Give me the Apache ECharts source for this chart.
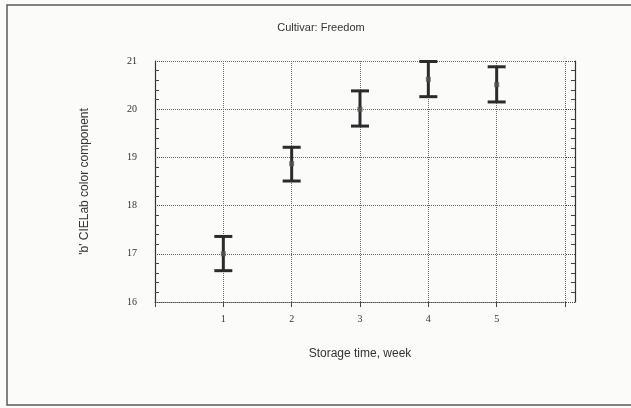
<!DOCTYPE html>
<html>
<head>
<meta charset="utf-8">
<script src="https://cdn.jsdelivr.net/npm/echarts@6/dist/echarts.min.js"></script>
<style>
  html, body { margin: 0; padding: 0; background: #fbfbfa; }
  #chart { width: 631px; height: 408px; }
</style>
</head>
<body>
<div id="chart"></div>
<script>
// storage week and the 'b' value with its error bar ends
const weeks = [1, 2, 3, 4, 5]
const means = [17.0, 18.87, 20.0, 20.62, 20.51]
const lower = [16.65, 18.51, 19.65, 20.26, 20.15]
const upper = [17.36, 19.21, 20.38, 20.99, 20.88]
const xTickLabels = ['1', '2', '3', '4', '5']

const sans = "'Liberation Sans', Arial, sans-serif"
const serif = "'Liberation Serif', 'DejaVu Serif', serif"
const ink = '#2b2b2b'

const chart = echarts.init(document.getElementById('chart'))

const barData = weeks.map((w, i) => [w, lower[i], upper[i]])
const pointData = weeks.map((w, i) => [w, means[i]])

chart.setOption({
  backgroundColor: '#fbfbfa',
  animation: false,
  title: {
    text: 'Cultivar: Freedom',
    left: 316,
    textAlign: 'center',
    top: 17,
    textStyle: { fontFamily: sans, fontSize: 11, fontWeight: 'normal', color: '#333' }
  },
  graphic: [{
    type: 'rect',
    shape: { x: 7, y: 5, width: 630, height: 400 },
    style: { fill: null, stroke: '#5a5a5a', lineWidth: 1.5 }
  }],
  // grid spans week 0..6, the solid side lines sit 10px outside it
  grid: { left: 155, right: 66, top: 61, bottom: 106 },
  xAxis: {
    type: 'value',
    min: 0,
    max: 6,
    interval: 1,
    name: 'Storage time, week',
    nameLocation: 'middle',
    nameGap: 46,
    nameTextStyle: { fontFamily: sans, fontSize: 12, color: '#333' },
    axisLine: { lineStyle: { color: '#555', type: 'dotted', width: 1 } },
    axisTick: { show: true, length: 5, lineStyle: { color: '#444' } },
    axisLabel: {
      margin: 12,
      fontFamily: serif,
      fontSize: 10,
      color: '#333',
      formatter: v => (v >= 1 && v <= 5) ? xTickLabels[Math.round(v) - 1] : ''
    },
    splitLine: { show: true, lineStyle: { color: '#666', type: 'dotted', width: 1 } }
  },
  yAxis: [{
    type: 'value',
    min: 16,
    max: 21,
    interval: 1,
    offset: 10,
    name: "'b' CIELab color component",
    nameLocation: 'middle',
    nameGap: 54,
    nameRotate: 90,
    nameTextStyle: { fontFamily: sans, fontSize: 12, color: '#333' },
    axisLine: { show: true, lineStyle: { color: '#333', width: 1.2 } },
    axisTick: { show: true, inside: true, length: 10, lineStyle: { color: '#444', type: 'dotted' } },
    minorTick: { show: true, splitNumber: 5, length: 4, lineStyle: { color: '#444' } },
    axisLabel: { margin: 8, fontFamily: serif, fontSize: 10, color: '#333' },
    splitLine: { show: true, lineStyle: { color: '#666', type: 'dotted', width: 1 } }
  }, {
    type: 'value',
    position: 'right',
    min: 16,
    max: 21,
    interval: 1,
    offset: 10,
    axisLine: { show: true, lineStyle: { color: '#333', width: 1.2 } },
    axisTick: { show: true, inside: true, length: 10, lineStyle: { color: '#444', type: 'dotted' } },
    minorTick: { show: true, splitNumber: 5, length: 4, lineStyle: { color: '#444' } },
    axisLabel: { show: false },
    splitLine: { show: false }
  }],
  series: [{
    type: 'custom',
    data: barData,
    renderItem: (params, api) => {
      const top = api.coord([api.value(0), api.value(2)])
      const bot = api.coord([api.value(0), api.value(1)])
      const half = 9
      const style = { stroke: ink, lineWidth: 3 }
      return {
        type: 'group',
        children: [
          { type: 'line', shape: { x1: top[0], y1: top[1], x2: bot[0], y2: bot[1] }, style },
          { type: 'line', shape: { x1: top[0] - half, y1: top[1], x2: top[0] + half, y2: top[1] }, style },
          { type: 'line', shape: { x1: bot[0] - half, y1: bot[1], x2: bot[0] + half, y2: bot[1] }, style }
        ]
      }
    },
    z: 3
  }, {
    type: 'scatter',
    data: pointData,
    symbol: 'rect',
    symbolSize: 5,
    itemStyle: { color: '#555' },
    z: 4
  }]
})
</script>
</body>
</html>
